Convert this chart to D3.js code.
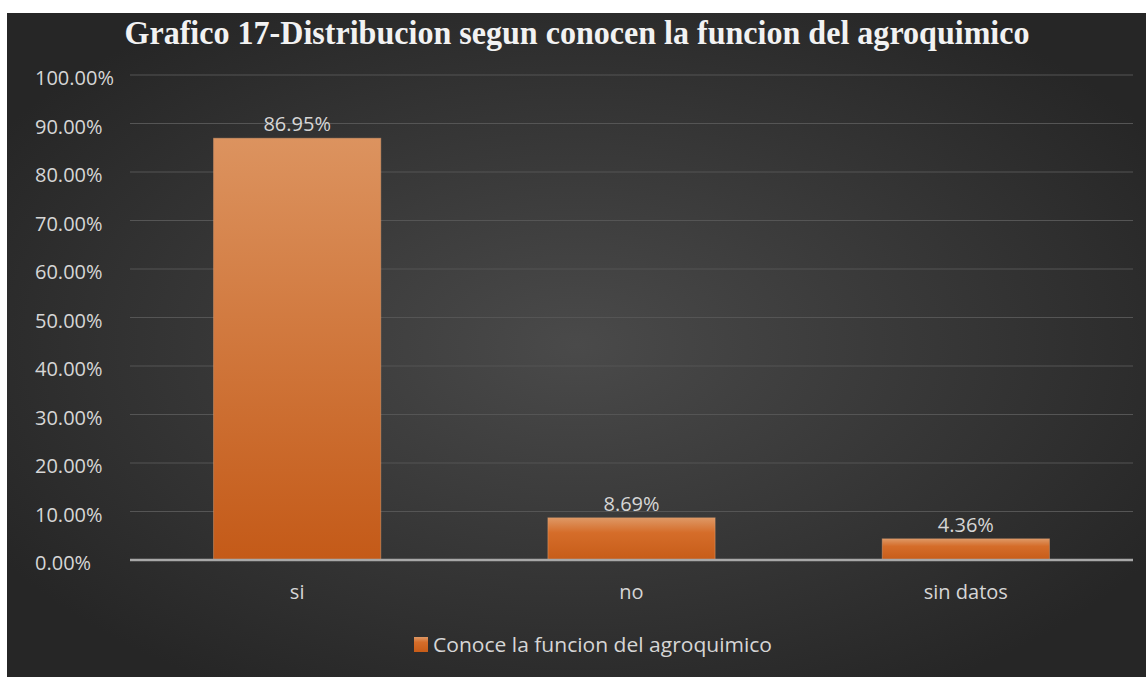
<!DOCTYPE html>
<html><head><meta charset="utf-8">
<script src="https://cdn.jsdelivr.net/npm/d3@7"></script>
<style>html,body{margin:0;padding:0;background:#fff;overflow:hidden}</style>
</head><body>
<svg id="c" width="1146" height="677"></svg>
<script>
const titleText = "Grafico 17-Distribucion segun conocen la funcion del agroquimico";
const categories = ["si", "no", "sin datos"];
const values = [86.95, 8.69, 4.36];
const valueLabels = ["86.95%", "8.69%", "4.36%"];
const yTicks = [0, 10, 20, 30, 40, 50, 60, 70, 80, 90, 100];
const seriesName = "Conoce la funcion del agroquimico";

const svg = d3.select("#c");
const defs = svg.append("defs");
const bg = defs.append("radialGradient").attr("id","bg").attr("cx","50%").attr("cy","50%").attr("r","60%");
bg.append("stop").attr("offset","0%").attr("stop-color","#4a4a4a");
bg.append("stop").attr("offset","100%").attr("stop-color","#262626");
const bar = defs.append("linearGradient").attr("id","bar").attr("x1",0).attr("y1",0).attr("x2",0).attr("y2",1);
bar.append("stop").attr("offset","0%").attr("stop-color","#dc935f");
bar.append("stop").attr("offset","100%").attr("stop-color","#c45a18");
const barS = defs.append("linearGradient").attr("id","barS").attr("x1",0).attr("y1",0).attr("x2",0).attr("y2",1);
barS.append("stop").attr("offset","0%").attr("stop-color","#de9865");
barS.append("stop").attr("offset","35%").attr("stop-color","#d56d2a");
barS.append("stop").attr("offset","100%").attr("stop-color","#c75c18");

svg.append("rect").attr("x",7).attr("y",13).attr("width",1139).attr("height",664).attr("fill","url(#bg)");

const x = d3.scaleBand().domain(categories).range([130,1133]).paddingInner(0.5).paddingOuter(0.25);
const y = d3.scaleLinear().domain([0,100]).range([560,75]);
const FONT = "Open Sans, sans-serif";
const TXT = "#d6d6d6";

// gridlines
svg.append("g").selectAll("line").data(yTicks.filter(d=>d>0)).join("line")
  .attr("x1",130).attr("x2",1133).attr("y1",d=>y(d)).attr("y2",d=>y(d))
  .attr("stroke","#555555").attr("stroke-width",1.2);

// y labels
svg.append("g").selectAll("text").data(yTicks).join("text")
  .attr("x",35).attr("y",d=>y(d)+3).attr("dy","0.35em")
  .attr("fill",TXT).attr("font-family",FONT).attr("font-size",20)
  .text(d=>d.toFixed(2)+"%");

// bars
svg.append("g").selectAll("rect").data(values).join("rect")
  .attr("x",(d,i)=>x(categories[i])).attr("width",x.bandwidth())
  .attr("y",d=>y(d)).attr("height",d=>y(0)-y(d))
  .attr("fill",(d,i)=> d>50 ? "url(#bar)" : "url(#barS)")
  .attr("stroke","#e2a070").attr("stroke-opacity",0.5).attr("stroke-width",1);

// axis line
svg.append("line").attr("x1",130).attr("x2",1133).attr("y1",y(0)).attr("y2",y(0))
  .attr("stroke","#a8a8a8").attr("stroke-width",2.5);

// value labels
svg.append("g").selectAll("text").data(values).join("text")
  .attr("x",(d,i)=>x(categories[i])+x.bandwidth()/2).attr("y",d=>y(d)-7)
  .attr("text-anchor","middle").attr("fill",TXT)
  .attr("font-family",FONT).attr("font-size",20)
  .text((d,i)=>valueLabels[i]);

// category labels
svg.append("g").selectAll("text").data(categories).join("text")
  .attr("x",d=>x(d)+x.bandwidth()/2).attr("y",592).attr("dy","0.35em")
  .attr("text-anchor","middle").attr("fill",TXT)
  .attr("font-family",FONT).attr("font-size",20)
  .text(d=>d);

// title
svg.append("text").attr("x",577).attr("y",44).attr("text-anchor","middle")
  .attr("fill","#f2f2f2").attr("font-family","Liberation Serif, serif").attr("font-weight","bold")
  .attr("font-size",33).attr("textLength",905).attr("lengthAdjust","spacingAndGlyphs")
  .text(titleText);

// legend
svg.append("rect").attr("x",414).attr("y",637).attr("width",14).attr("height",15).attr("fill","url(#barS)");
svg.append("text").attr("x",433).attr("y",645).attr("dy","0.35em")
  .attr("fill",TXT).attr("font-family",FONT).attr("font-size",20)
  .attr("textLength",339).attr("lengthAdjust","spacingAndGlyphs")
  .text(seriesName);
</script>
</body></html>
